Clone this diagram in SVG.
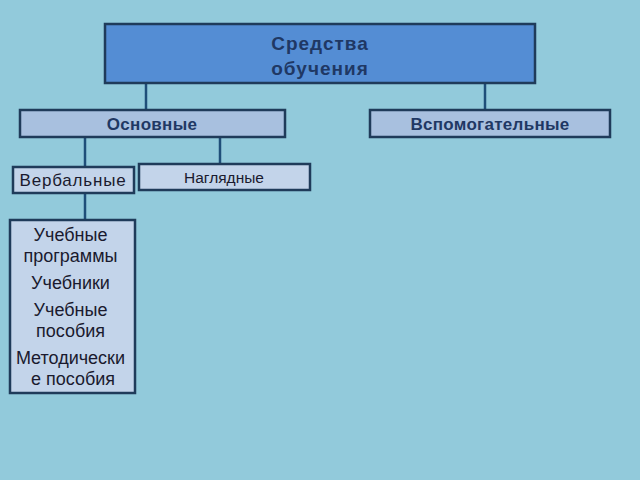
<svg xmlns="http://www.w3.org/2000/svg" width="640" height="480" viewBox="0 0 640 480">
<style>
.box{stroke:#1F3B5A;stroke-width:2.5}
.l1{fill:#548DD4}
.l2{fill:#A8C0DF}
.l3{fill:#C3D4EA}
.t{font-family:"Liberation Sans",Arial,sans-serif;fill:#1F3864;text-anchor:middle}
.b{font-weight:bold}
.w{fill:#1a1a2e}
#connectors line{stroke:#1F4E79;stroke-width:2.5}
</style>
<rect width="640" height="480" fill="#92CADB"/>
<g id="connectors">
<line x1="146" y1="84" x2="146" y2="109"/>
<line x1="485" y1="84" x2="485" y2="109"/>
<line x1="85" y1="138" x2="85" y2="166"/>
<line x1="220" y1="138" x2="220" y2="164"/>
<line x1="85" y1="194" x2="85" y2="220"/>
</g>
<g id="root">
<rect class="box l1" x="105" y="24" width="430" height="59"/>
<text class="t b" x="320" y="50" font-size="19" letter-spacing="1">Средства</text>
<text class="t b" x="320" y="75" font-size="19" letter-spacing="1">обучения</text>
</g>
<g id="osnovnye">
<rect class="box l2" x="20" y="110" width="265" height="27"/>
<text class="t b" x="152" y="130" font-size="17" letter-spacing="0.3">Основные</text>
</g>
<g id="vspomogatelnye">
<rect class="box l2" x="370" y="110" width="240" height="27"/>
<text class="t b" x="490" y="130" font-size="17" letter-spacing="0.3">Вспомогательные</text>
</g>
<g id="verbalnye">
<rect class="box l3" x="13" y="167" width="121" height="26"/>
<text class="t w" x="73" y="186" font-size="17" letter-spacing="0.8">Вербальные</text>
</g>
<g id="nagliadnye">
<rect class="box l3" x="139" y="164" width="171" height="26"/>
<text class="t w" x="224" y="183" font-size="15.5">Наглядные</text>
</g>
<g id="list">
<rect class="box l3" x="10" y="220" width="125" height="173"/>
<text class="t w" font-size="18">
<tspan x="73" y="241">Учебные</tspan>
<tspan x="73" y="262">программы</tspan>
<tspan x="73" y="289">Учебники</tspan>
<tspan x="73" y="316">Учебные</tspan>
<tspan x="73" y="337">пособия</tspan>
<tspan x="73" y="364">Методически</tspan>
<tspan x="73" y="385">е пособия</tspan>
</text>
</g>
</svg>
